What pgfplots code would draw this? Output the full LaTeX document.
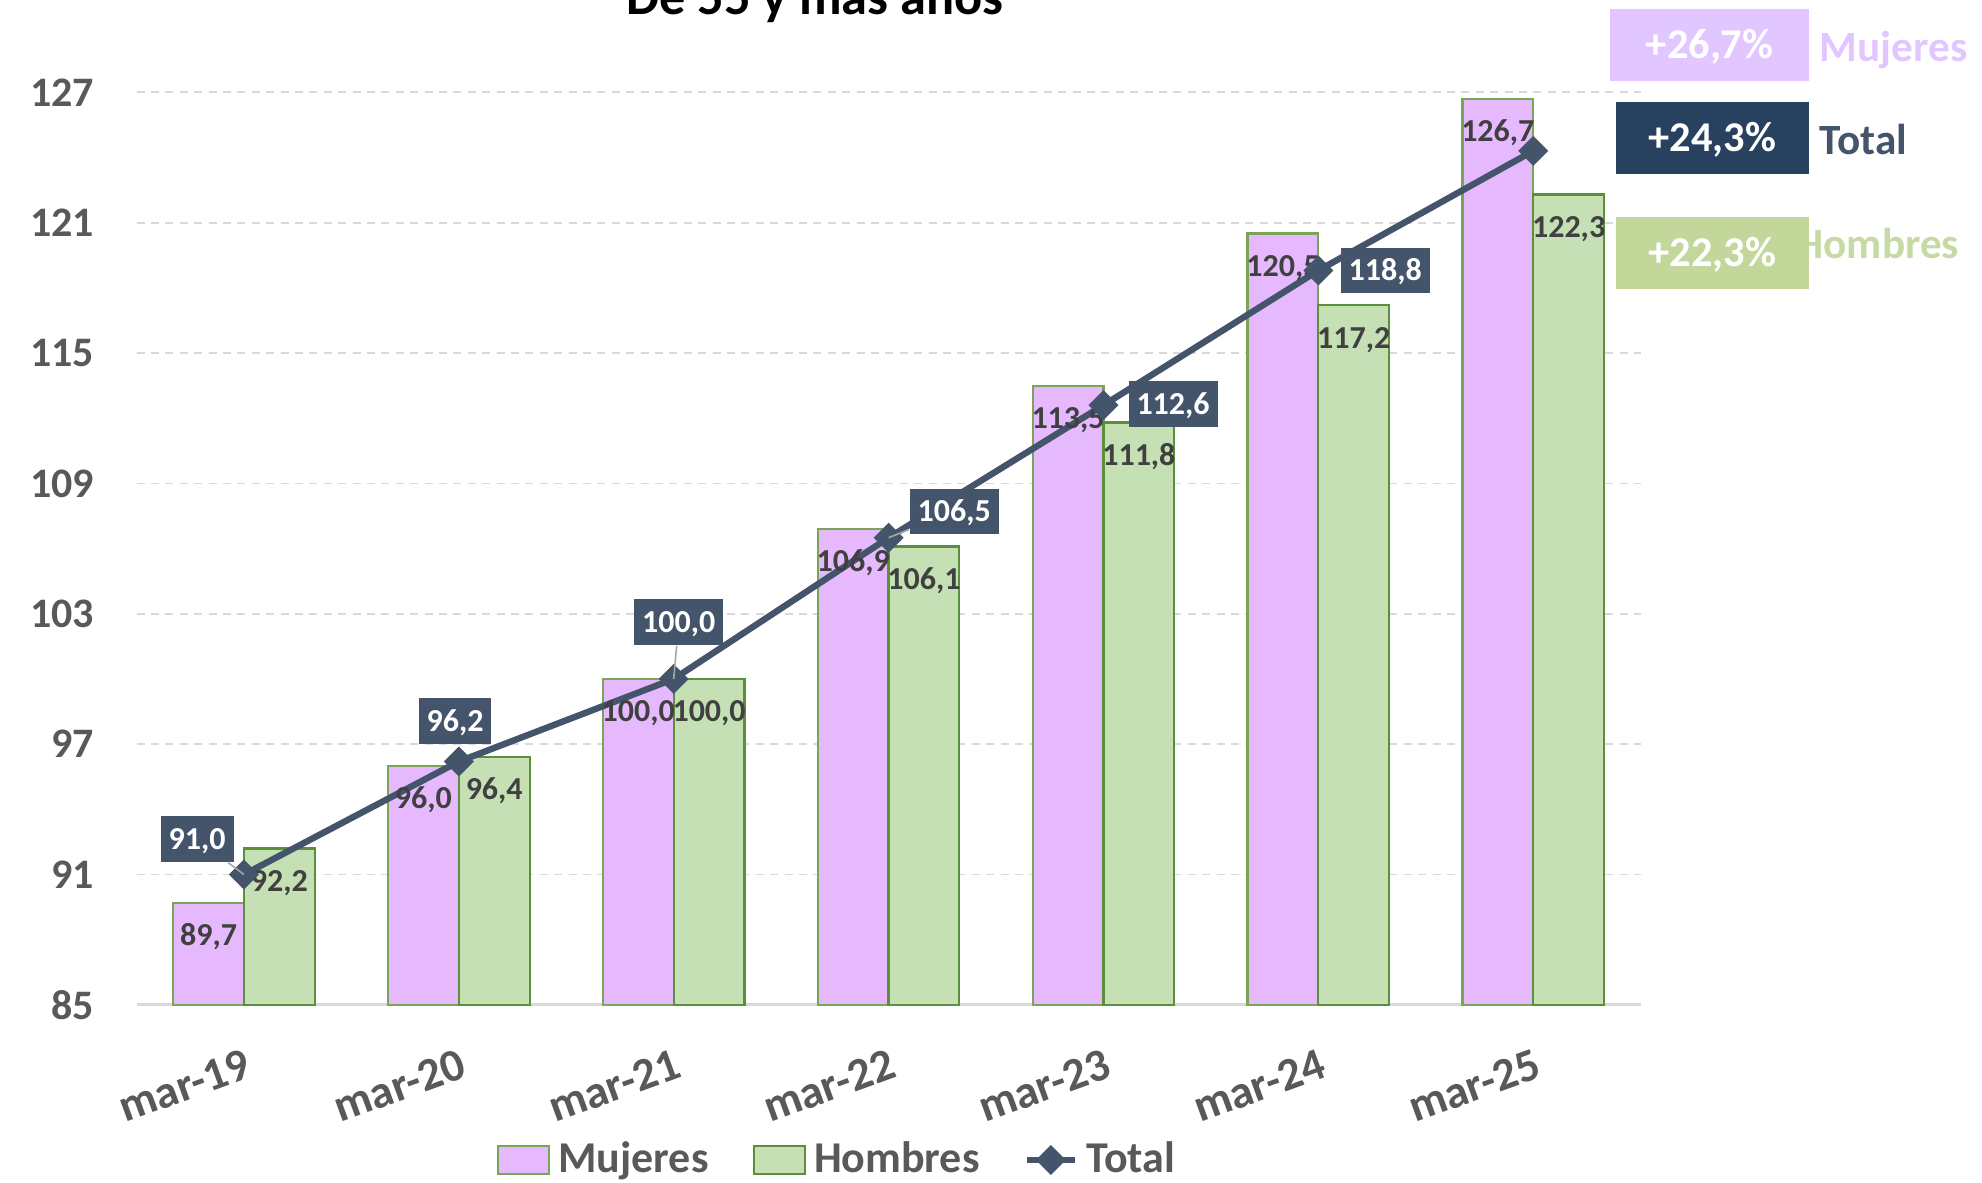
\documentclass[border=0pt]{standalone}
\usepackage{fontspec}
\setmainfont{Carlito}
\usepackage{pgfplots}
\pgfplotsset{compat=1.18}
\usepackage{pgfplotstable}

\definecolor{mujc}{HTML}{E6B9FF}
\definecolor{mujedge}{HTML}{7AA457}
\definecolor{homc}{HTML}{C5E0B4}
\definecolor{homedge}{HTML}{5B8F3A}
\definecolor{totc}{HTML}{44546A}
\definecolor{boxone}{HTML}{E2C6FF}
\definecolor{boxtwo}{HTML}{27415F}
\definecolor{boxthree}{HTML}{C4D79B}
\definecolor{homtext}{HTML}{C5DAA4}
\definecolor{tickgray}{HTML}{595959}
\definecolor{labgray}{HTML}{404040}
\definecolor{gridgray}{HTML}{D9D9D9}

\pgfplotsset{
  barleg/.style={legend image code/.code={\draw[##1] (0pt,-3.5pt) rectangle (12.8pt,3.5pt);}},
  lineleg/.style={legend image code/.code={\draw[##1, mark repeat=2, mark phase=2] plot coordinates {(0pt,0pt) (6pt,0pt) (12pt,0pt)};}},
  barlab/.style={nodes near coords={\pgfmathprintnumber[fixed,fixed zerofill,precision=1,use comma]{\pgfplotspointmeta}},
    every node near coord/.append style={anchor=center, xshift=#1, yshift=-8.1pt, inner sep=0pt, text height=5.2pt, text depth=0pt, text=labgray, font=\fontsize{8}{9}\selectfont\bfseries}},
}

\pgfplotstableread{
x muj hom tot
0 89.7 92.2 91.0
1 96.0 96.4 96.2
2 100.0 100.0 100.0
3 106.9 106.1 106.5
4 113.5 111.8 112.6
5 120.5 117.2 118.8
6 126.7 122.3 124.3
}\datatab

\pgfplotstableread{
x y dx dy ld
0 91.0 -11.7 8.85 1
1 96.2 -0.95 10.1 0
2 100.0 1.26 14.2 1
3 106.5 16.4 6.6 1
4 112.6 17.4 0.3 0
5 118.8 16.7 0.0 0
}\totlab

\begin{document}
\begin{tikzpicture}
\useasboundingbox (0,0) rectangle (495.5pt,295.5pt);
\begin{axis}[
  at={(34.125pt,44.28pt)}, anchor=south west,
  scale only axis, width=376.05pt, height=228.15pt,
  xmin=-0.5, xmax=6.5, ymin=85, ymax=127,
  ytick={85,91,97,103,109,115,121,127},
  xtick={0,1,2,3,4,5,6},
  xticklabels={mar-19,mar-20,mar-21,mar-22,mar-23,mar-24,mar-25},
  major tick length=0pt,
  /pgf/number format/assume math mode=true,
  axis lines*=left,
  y axis line style={draw=none},
  x axis line style={draw=gridgray, line width=0.75pt},
  ymajorgrids,
  grid style={draw=gridgray, line width=0.45pt, dash pattern=on 2pt off 1.6pt},
  yticklabel style={font=\fontsize{10.5}{12}\selectfont\bfseries, text=tickgray, inner sep=0pt, anchor=east},
  yticklabel shift=10.4pt,
  xticklabel style={font=\fontsize{11.5}{13}\selectfont\bfseries, text=tickgray, inner sep=0pt, rotate=20, anchor=north east},
  xticklabel shift=10.5pt,
  clip=false,
  legend style={at={(0.4677,-0.170)}, anchor=center, draw=none, fill=none,
    font=\fontsize{11}{13}\selectfont\bfseries, text=tickgray,
    legend columns=3,
    /tikz/every even column/.append style={column sep=9pt}},
]
\addplot[ybar, bar width=17.7pt, bar shift=-8.85pt, fill=mujc, draw=mujedge, line width=0.55pt, barleg, barlab=-8.85pt]
  table[x=x, y=muj] {\datatab};
\addlegendentry{Mujeres}
\addplot[ybar, bar width=17.7pt, bar shift=8.85pt, fill=homc, draw=homedge, line width=0.55pt, barleg, barlab=8.85pt]
  table[x=x, y=hom] {\datatab};
\addlegendentry{Hombres}
\addplot[sharp plot, draw=totc, line width=1.6pt, mark=square*,
  mark size=2.45pt, mark options={rotate=45, fill=totc, draw=totc, line width=0.4pt, solid}, lineleg]
  table[x=x, y=tot] {\datatab};
\addlegendentry{Total}
\addplot[sharp plot, draw=none, mark=none, forget plot,
  visualization depends on={\thisrow{dx} \as \ddx},
  visualization depends on={\thisrow{dy} \as \ddy},
  visualization depends on={\thisrow{ld} \as \lld},
  nodes near coords={\pgfmathprintnumber[fixed,fixed zerofill,precision=1,use comma]{\pgfplotspointmeta}},
  every node near coord/.append style={anchor=center, xshift=\ddx pt, yshift=\ddy pt,
    fill=totc, text=white, inner xsep=2pt, inner ysep=3.1pt, text height=5.2pt, text depth=0pt,
    font=\fontsize{8}{9}\selectfont\bfseries,
    append after command={(\tikzlastnode) edge[draw=gray!70, line width=0.4pt, draw opacity=\lld] ([xshift=-\ddx pt, yshift=-\ddy pt]\tikzlastnode.center)}}]
  table[x=x, y=y] {\totlab};
\end{axis}

\node[anchor=base, font=\fontsize{13.1}{15}\selectfont\bfseries, text=black] at (203.75pt,292pt) {De 55 y más años};

\node[fill=boxone, minimum width=49.75pt, minimum height=18pt, inner sep=0pt, text=white, text height=6.7pt, text depth=0pt, font=\fontsize{10.6}{12}\selectfont\bfseries] at (427.4pt,284.25pt) {+26,7\%};
\node[anchor=base west, inner sep=0pt, text=boxone, font=\fontsize{10.8}{12}\selectfont\bfseries] at (454.75pt,280pt) {Mujeres};

\node[fill=boxtwo, minimum width=48.25pt, minimum height=18pt, inner sep=0pt, text=white, text height=6.7pt, text depth=0pt, font=\fontsize{10.6}{12}\selectfont\bfseries] at (428.1pt,261pt) {+24,3\%};
\node[anchor=base west, inner sep=0pt, text=totc, font=\fontsize{10.8}{12}\selectfont\bfseries] at (454.75pt,257pt) {Total};

\node[anchor=base west, inner sep=0pt, text=homtext, font=\fontsize{10.8}{12}\selectfont\bfseries] at (448.9pt,231pt) {Hombres};
\node[fill=boxthree, minimum width=48.25pt, minimum height=18pt, inner sep=0pt, text=white, text height=6.7pt, text depth=0pt, font=\fontsize{10.6}{12}\selectfont\bfseries] at (428.1pt,232.25pt) {+22,3\%};
\end{tikzpicture}
\end{document}
